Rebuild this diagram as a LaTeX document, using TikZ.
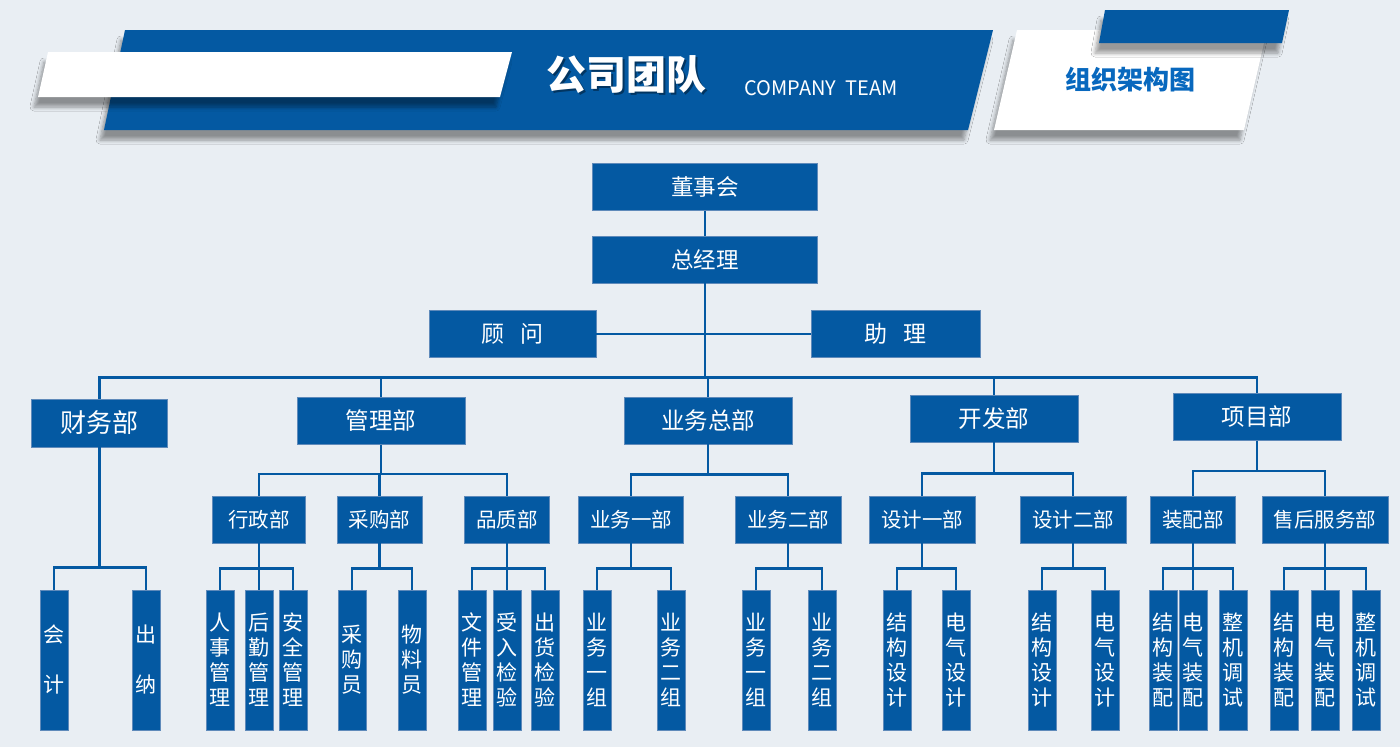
\documentclass[tikz,border=0pt]{standalone}
\usepackage{fontspec}
\setmainfont{Noto Sans CJK SC}
\usetikzlibrary{shadows.blur}
\definecolor{bgcol}{RGB}{233,238,243}
\definecolor{boxblue}{RGB}{4,89,162}
\definecolor{edgeblue}{RGB}{95,138,186}
\definecolor{titleblue}{RGB}{8,104,190}
\tikzset{
  unit/.style={fill=boxblue, draw=edgeblue, line width=0.8pt, text=white, inner sep=0pt},
  dept/.style={unit, minimum width=168pt, minimum height=47pt, font=\fontsize{23.5}{26}\selectfont},
  sect/.style={unit, minimum height=47pt, font=\fontsize{20.5}{24}\selectfont},
  leaf/.style={unit, minimum width=28pt, minimum height=140pt, align=center, font=\fontsize{21}{25}\selectfont},
  link/.style={draw=boxblue, line width=2.5pt},
  hshadow/.style={blur shadow={shadow xshift=-4pt, shadow yshift=-10pt, shadow blur radius=4pt, shadow blur steps=6}},
}
\begin{document}
\begin{tikzpicture}[x=1pt, y=-1pt]
  \fill[bgcol] (0,0) rectangle (1400,747);
  \useasboundingbox (0,0) rectangle (1400,747);
  % header
  \fill[boxblue, hshadow] (125,30) -- (993,30) -- (968,130) -- (104,130) -- cycle;
  \fill[white, hshadow] (48,52) -- (512,52) -- (500,97) -- (38,97) -- cycle;
  \node[text=black, opacity=0.4, font=\fontsize{40}{44}\selectfont\bfseries] (tts) at (628,77) {公司团队};
  \node[text=white, font=\fontsize{40}{44}\selectfont\bfseries] (tt) at (626,75) {公司团队};
  \node[text=white, font=\fontsize{20}{22}\selectfont] (tten) at (821,88) {COMPANY\ \ TEAM};
  \fill[white, hshadow] (1017,30) -- (1267,30) -- (1244,130) -- (994,130) -- cycle;
  \fill[boxblue, hshadow] (1105,10) -- (1289,10) -- (1282,43) -- (1099,43) -- cycle;
  \node[text=titleblue, font=\fontsize{26}{28}\selectfont\bfseries] (zz) at (1130,80) {组织架构图};
  % top
  \node[dept, minimum width=225pt, font=\fontsize{22.5}{26}\selectfont] (dsh) at (705,187) {董事会};
  \node[dept, minimum width=225pt, font=\fontsize{22.5}{26}\selectfont] (zjl) at (705,259.5) {总经理};
  \node[dept, minimum width=167pt, font=\fontsize{23}{26}\selectfont] (gw) at (512.5,334) {顾\hspace{0.7em}问};
  \node[dept, minimum width=169pt, font=\fontsize{23}{26}\selectfont] (zl) at (895.5,334) {助\hspace{0.7em}理};
  % departments
  \node[dept, minimum width=136pt, minimum height=48pt, font=\fontsize{26}{28}\selectfont] (cwb) at (99.5,423) {财务部};
  \node[dept] (glb) at (381,421) {管理部};
  \node[dept] (ywzb) at (708,420.5) {业务总部};
  \node[dept] (kfb) at (994,418.5) {开发部};
  \node[dept] (xmb) at (1257,417) {项目部};
  % sections
  \node[sect, minimum width=93pt] (xzb) at (259,519.5) {行政部};
  \node[sect, minimum width=85pt] (cgb) at (379.5,519.5) {采购部};
  \node[sect, minimum width=85pt] (pzb) at (507,519.5) {品质部};
  \node[sect, minimum width=105pt] (ywy) at (631,519.5) {业务一部};
  \node[sect, minimum width=106pt] (ywe) at (788,519.5) {业务二部};
  \node[sect, minimum width=106pt] (sjy) at (922,519.5) {设计一部};
  \node[sect, minimum width=106pt] (sje) at (1073,519.5) {设计二部};
  \node[sect, minimum width=85pt] (zpb) at (1193,519.5) {装配部};
  \node[sect, minimum width=126pt] (shb) at (1325,519.5) {售后服务部};
  % leaves
  \node[leaf] (kj) at (54,660) {会\\[25pt]计};
  \node[leaf] (cn) at (146,660) {出\\[25pt]纳};
  \node[leaf] (rs) at (220,660) {人\\事\\管\\理};
  \node[leaf] (hq) at (259,660) {后\\勤\\管\\理};
  \node[leaf] (aq) at (293,660) {安\\全\\管\\理};
  \node[leaf] (cgy) at (352,660) {采\\购\\员};
  \node[leaf] (wly) at (412,660) {物\\料\\员};
  \node[leaf] (wj) at (472,660) {文\\件\\管\\理};
  \node[leaf] (sr) at (507,660) {受\\入\\检\\验};
  \node[leaf] (ch) at (545,660) {出\\货\\检\\验};
  \node[leaf] (yya) at (597,660) {业\\务\\一\\组};
  \node[leaf] (yyb) at (671,660) {业\\务\\二\\组};
  \node[leaf] (yea) at (756,660) {业\\务\\一\\组};
  \node[leaf] (yeb) at (822,660) {业\\务\\二\\组};
  \node[leaf] (sya) at (897,660) {结\\构\\设\\计};
  \node[leaf] (syb) at (956,660) {电\\气\\设\\计};
  \node[leaf] (sea) at (1042,660) {结\\构\\设\\计};
  \node[leaf] (seb) at (1105,660) {电\\气\\设\\计};
  \node[leaf] (zpa) at (1163,660) {结\\构\\装\\配};
  \node[leaf] (zpm) at (1193,660) {电\\气\\装\\配};
  \node[leaf] (zpc) at (1233,660) {整\\机\\调\\试};
  \node[leaf] (sha) at (1284,660) {结\\构\\装\\配};
  \node[leaf] (shm) at (1325,660) {电\\气\\装\\配};
  \node[leaf] (shc) at (1366,660) {整\\机\\调\\试};
  \begin{scope}[link]
    \draw (dsh) -- (zjl);
    \draw (gw) -- (zl);
    \draw (zjl.south) -- ++(0,94) -| (cwb.north);
    \draw (zjl.south) -- ++(0,94) -| (glb.north);
    \draw (zjl.south) -- ++(0,94) -| (ywzb.north);
    \draw (zjl.south) -- ++(0,94) -| (kfb.north);
    \draw (zjl.south) -- ++(0,94) -| (xmb.north);
    \draw (cwb.south) -- ++(0,120) -| (kj.north);
    \draw (cwb.south) -- ++(0,120) -| (cn.north);
    \draw (glb.south) -- ++(0,29) -| (xzb.north);
    \draw (glb.south) -- ++(0,29) -| (cgb.north);
    \draw (glb.south) -- ++(0,29) -| (pzb.north);
    \draw (ywzb.south) -- ++(0,30) -| (ywy.north);
    \draw (ywzb.south) -- ++(0,30) -| (ywe.north);
    \draw (kfb.south) -- ++(0,31) -| (sjy.north);
    \draw (kfb.south) -- ++(0,31) -| (sje.north);
    \draw (xmb.south) -- ++(0,30) -| (zpb.north);
    \draw (xmb.south) -- ++(0,30) -| (shb.north);
    \draw (xzb.south) -- ++(0,25) -| (rs.north);
    \draw (xzb.south) -- ++(0,25) -| (hq.north);
    \draw (xzb.south) -- ++(0,25) -| (aq.north);
    \draw (cgb.south) -- ++(0,25) -| (cgy.north);
    \draw (cgb.south) -- ++(0,25) -| (wly.north);
    \draw (pzb.south) -- ++(0,25) -| (wj.north);
    \draw (pzb.south) -- ++(0,25) -| (sr.north);
    \draw (pzb.south) -- ++(0,25) -| (ch.north);
    \draw (ywy.south) -- ++(0,25) -| (yya.north);
    \draw (ywy.south) -- ++(0,25) -| (yyb.north);
    \draw (ywe.south) -- ++(0,25) -| (yea.north);
    \draw (ywe.south) -- ++(0,25) -| (yeb.north);
    \draw (sjy.south) -- ++(0,25) -| (sya.north);
    \draw (sjy.south) -- ++(0,25) -| (syb.north);
    \draw (sje.south) -- ++(0,25) -| (sea.north);
    \draw (sje.south) -- ++(0,25) -| (seb.north);
    \draw (zpb.south) -- ++(0,25) -| (zpa.north);
    \draw (zpb.south) -- ++(0,25) -| (zpm.north);
    \draw (zpb.south) -- ++(0,25) -| (zpc.north);
    \draw (shb.south) -- ++(0,25) -| (sha.north);
    \draw (shb.south) -- ++(0,25) -| (shm.north);
    \draw (shb.south) -- ++(0,25) -| (shc.north);
  \end{scope}
\end{tikzpicture}
\end{document}
